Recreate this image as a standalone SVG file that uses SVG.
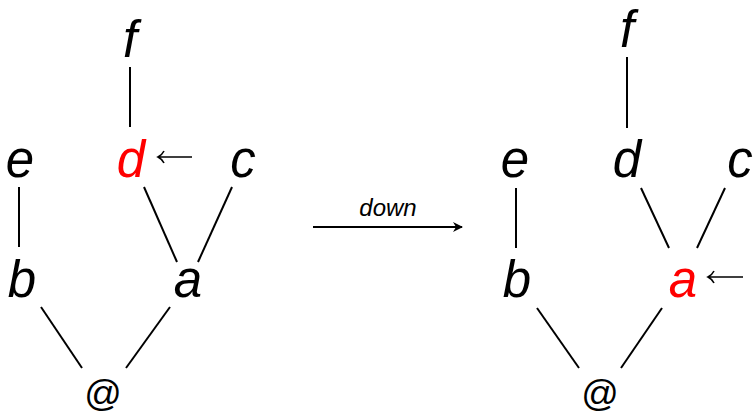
<svg xmlns="http://www.w3.org/2000/svg" width="753" height="418" viewBox="0 0 753 418">
<style>
.t{font-family:"Liberation Sans",Arial,sans-serif;font-style:italic;font-size:51px;text-anchor:middle;fill:#000}
.r{fill:#ff0000}
.at{font-family:"Liberation Sans",Arial,sans-serif;font-size:37px;text-anchor:middle;fill:#000}
.l{stroke:#000;stroke-width:2;fill:none}
.p{stroke:#000;stroke-width:1.6;fill:none}
.lbl{font-family:"Liberation Sans",Arial,sans-serif;font-style:italic;font-size:24px;text-anchor:middle;fill:#000}
</style>
<defs>
<marker id="ah" viewBox="0 0 10 10" refX="9" refY="5" markerWidth="10" markerHeight="10" markerUnits="userSpaceOnUse" orient="auto">
<path d="M0,0 L10,5 L0,10 L3,5 z" fill="#000"/>
</marker>
</defs>
<g id="left-f"><text class="t" x="130" y="57">f</text></g>
<g id="left-e"><text class="t" x="20" y="177">e</text></g>
<g id="left-d"><text class="t r" x="131" y="177">d</text></g>
<g id="left-c"><text class="t" x="243" y="177">c</text></g>
<g id="left-b"><text class="t" x="22" y="297">b</text></g>
<g id="left-a"><text class="t" x="188" y="297">a</text></g>
<g id="left-at"><text class="at" x="103" y="406">@</text></g>
<g id="right-f"><text class="t" x="627" y="47">f</text></g>
<g id="right-e"><text class="t" x="515" y="177">e</text></g>
<g id="right-d"><text class="t" x="627" y="177">d</text></g>
<g id="right-c"><text class="t" x="740" y="177">c</text></g>
<g id="right-b"><text class="t" x="517" y="297">b</text></g>
<g id="right-a"><text class="t r" x="683" y="297">a</text></g>
<g id="right-at"><text class="at" x="600" y="406">@</text></g>
<g id="connectors">
<line class="l" x1="130" y1="67" x2="130" y2="127"/>
<line class="l" x1="19" y1="187" x2="19" y2="247"/>
<line class="l" x1="144" y1="187" x2="177" y2="262"/>
<line class="l" x1="232" y1="187" x2="198" y2="262"/>
<line class="l" x1="41" y1="307" x2="82" y2="368"/>
<line class="l" x1="170" y1="307" x2="126" y2="368"/>
<line class="l" x1="627" y1="57" x2="627" y2="128"/>
<line class="l" x1="516" y1="188" x2="516" y2="248"/>
<line class="l" x1="641" y1="188" x2="669" y2="248"/>
<line class="l" x1="725" y1="188" x2="697" y2="248"/>
<line class="l" x1="537" y1="308" x2="579" y2="368"/>
<line class="l" x1="662" y1="308" x2="621" y2="368"/>
<path class="p" d="M192,157 H158 M164,151 Q162,155 158,157 Q162,159 164,163"/>
<path class="p" d="M743,277 H708 M714,271 Q712,275 708,277 Q712,279 714,283"/>
<line class="l" x1="313" y1="227" x2="462" y2="227" marker-end="url(#ah)"/>
<text class="lbl" x="388" y="216">down</text>
</g>
</svg>
